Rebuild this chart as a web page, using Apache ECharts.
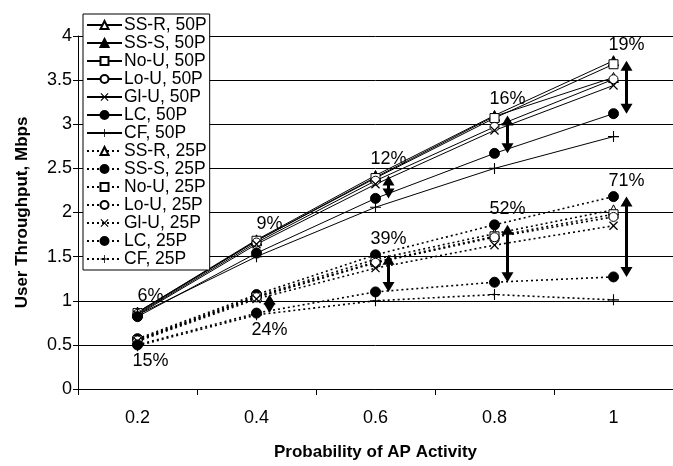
<!DOCTYPE html>
<html>
<head>
<meta charset="utf-8">
<script src="https://cdn.jsdelivr.net/npm/echarts@6/dist/echarts.min.js"></script>
<style>
html,body{margin:0;padding:0;background:#fff;}
#chart{width:673px;height:466px;}
</style>
</head>
<body>
<div id="chart"></div>
<script>
// ---- data ----
var categories = ['0.2', '0.4', '0.6', '0.8', '1'];
var yTicks = [0, 0.5, 1, 1.5, 2, 2.5, 3, 3.5, 4];

var ssR50 = [0.87, 1.68, 2.40, 3.09, 3.53];
var ssS50 = [0.87, 1.69, 2.42, 3.10, 3.72];
var noU50 = [0.86, 1.68, 2.39, 3.07, 3.68];
var loU50 = [0.85, 1.66, 2.36, 2.97, 3.51];
var glU50 = [0.84, 1.64, 2.32, 2.93, 3.44];
var lc50  = [0.82, 1.54, 2.16, 2.67, 3.12];
var cf50  = [0.84, 1.50, 2.06, 2.50, 2.86];

var ssR25 = [0.56, 1.05, 1.47, 1.76, 2.03];
var ssS25 = [0.57, 1.07, 1.52, 1.86, 2.18];
var noU25 = [0.55, 1.04, 1.44, 1.73, 1.98];
var loU25 = [0.55, 1.04, 1.43, 1.72, 1.95];
var glU25 = [0.54, 1.02, 1.37, 1.63, 1.85];
var lc25  = [0.50, 0.86, 1.10, 1.21, 1.27];
var cf25  = [0.49, 0.84, 1.00, 1.07, 1.01];

var gain50 = ['6%', '9%', '12%', '16%', '19%'];
var gain25 = ['15%', '24%', '39%', '52%', '71%'];
var arrow50 = [false, false, true, true, true];
var arrow25 = [false, true, true, true, true];
var label25Below = [true, true, false, false, false];

// ---- styling helpers ----
var FONT = '"Liberation Sans", Arial, sans-serif';
var X_PATH = 'path://M0,1L1,0L5,4L9,0L10,1L6,5L10,9L9,10L5,6L1,10L0,9L4,5Z';
var PLUS_PATH = 'path://M4.5,0H5.5V4.5H10V5.5H5.5V10H4.5V5.5H0V4.5H4.5Z';

var markers = {
  triOpen:  {symbol: 'triangle', size: 10, fill: '#fff', border: 1},
  triFill:  {symbol: 'triangle', size: 10, fill: '#000', border: 1},
  sqOpen:   {symbol: 'rect', size: 9, fill: '#fff', border: 1},
  cirOpen:  {symbol: 'circle', size: 9, fill: '#fff', border: 1},
  cross:    {symbol: X_PATH, size: 9, fill: '#000', border: 0},
  cirFill:  {symbol: 'circle', size: 10, fill: '#000', border: 1},
  plus:     {symbol: PLUS_PATH, size: 11, fill: '#000', border: 0}
};

function mkSeries(name, data, mk, dotted) {
  var m = markers[mk];
  return {
    name: name,
    type: 'line',
    data: data,
    symbol: m.symbol,
    symbolSize: m.size,
    showAllSymbol: true,
    lineStyle: {color: '#000', width: dotted ? 1.6 : 1, type: dotted ? [2, 3] : 'solid'},
    itemStyle: {color: m.fill, borderColor: '#000', borderWidth: m.border},
    emphasis: {disabled: true},
    z: 3
  };
}

var seriesList = [
  mkSeries('SS-R, 50P', ssR50, 'triOpen', false),
  mkSeries('SS-S, 50P', ssS50, 'triFill', false),
  mkSeries('No-U, 50P', noU50, 'sqOpen', false),
  mkSeries('Lo-U, 50P', loU50, 'cirOpen', false),
  mkSeries('Gl-U, 50P', glU50, 'cross', false),
  mkSeries('LC, 50P', lc50, 'cirFill', false),
  mkSeries('CF, 50P', cf50, 'plus', false),
  mkSeries('SS-R, 25P', ssR25, 'triOpen', true),
  mkSeries('SS-S, 25P', ssS25, 'cirFill', true),
  mkSeries('No-U, 25P', noU25, 'sqOpen', true),
  mkSeries('Lo-U, 25P', loU25, 'cirOpen', true),
  mkSeries('Gl-U, 25P', glU25, 'cross', true),
  mkSeries('LC, 25P', lc25, 'cirFill', true),
  mkSeries('CF, 25P', cf25, 'plus', true)
];

var group50 = [ssR50, ssS50, noU50, loU50, glU50, lc50, cf50];
var group25 = [ssR25, ssS25, noU25, loU25, glU25, lc25, cf25];
function colMax(g, i) { return Math.max.apply(null, g.map(function (s) { return s[i]; })); }
function colMin(g, i) { return Math.min.apply(null, g.map(function (s) { return s[i]; })); }

var annData = categories.map(function (c, i) {
  return [i, colMax(group50, i), lc50[i], colMax(group25, i), lc25[i], colMin(group25, i)];
});

function arrowShape(x, yTop, yBot) {
  var hw = 6, hh = 10;
  return [
    {type: 'line', shape: {x1: x, y1: yTop + hh - 1, x2: x, y2: yBot - hh + 1}, style: {stroke: '#000', lineWidth: 3}},
    {type: 'polygon', shape: {points: [[x, yTop], [x - hw, yTop + hh], [x + hw, yTop + hh]]}, style: {fill: '#000'}},
    {type: 'polygon', shape: {points: [[x, yBot], [x - hw, yBot - hh], [x + hw, yBot - hh]]}, style: {fill: '#000'}}
  ];
}

function renderAnn(params, api) {
  var i = api.value(0);
  var off = 13;
  var pTop50 = api.coord([i, api.value(1)]);
  var pLc50 = api.coord([i, api.value(2)]);
  var pTop25 = api.coord([i, api.value(3)]);
  var pLc25 = api.coord([i, api.value(4)]);
  var pMin25 = api.coord([i, api.value(5)]);
  var x = pTop50[0] + off;
  var font = '18px ' + FONT;
  var children = [];
  if (arrow50[i]) children = children.concat(arrowShape(x, pTop50[1], pLc50[1]));
  if (arrow25[i]) children = children.concat(arrowShape(x, pTop25[1], pLc25[1]));
  children.push({type: 'text', style: {text: gain50[i], x: x, y: pTop50[1] - 7, align: 'center', verticalAlign: 'bottom', font: font, fill: '#000'}});
  if (label25Below[i]) {
    children.push({type: 'text', style: {text: gain25[i], x: x, y: pMin25[1] + 6, align: 'center', verticalAlign: 'top', font: font, fill: '#000'}});
  } else {
    children.push({type: 'text', style: {text: gain25[i], x: x, y: pTop25[1] - 7, align: 'center', verticalAlign: 'bottom', font: font, fill: '#000'}});
  }
  return {type: 'group', children: children};
}

seriesList.push({
  type: 'custom',
  name: 'annotations',
  data: annData,
  encode: {x: 0, y: [1, 2, 3, 4, 5]},
  renderItem: renderAnn,
  silent: true,
  z: 10
});

var chart = echarts.init(document.getElementById('chart'), null, {renderer: 'canvas'});
chart.setOption({
  animation: false,
  backgroundColor: '#fff',
  textStyle: {fontFamily: FONT, color: '#000'},
  grid: {left: 78, top: 36, right: -4, bottom: 70, containLabel: false},
  legend: {
    data: seriesList.slice(0, 14).map(function (s) { return s.name; }),
    orient: 'vertical',
    left: 83,
    top: 14,
    itemWidth: 35,
    itemHeight: 10,
    itemGap: 0,
    padding: [2, 3, 2, 3],
    backgroundColor: '#fff',
    borderColor: '#000',
    borderWidth: 1,
    borderRadius: 0,
    selectedMode: false,
    textStyle: {fontFamily: FONT, fontSize: 17.5, lineHeight: 17, color: '#000', padding: [0, 0, 0, -3]}
  },
  xAxis: {
    type: 'category',
    data: categories,
    boundaryGap: true,
    name: 'Probability of AP Activity',
    nameLocation: 'middle',
    nameGap: 55,
    nameTextStyle: {fontFamily: FONT, fontSize: 17, fontWeight: 'bold', color: '#000'},
    axisLine: {show: true, lineStyle: {color: '#000', width: 1}},
    axisTick: {show: true, alignWithLabel: false, length: 6, lineStyle: {color: '#000'}},
    axisLabel: {fontFamily: FONT, fontSize: 18, color: '#000', margin: 20},
    splitLine: {show: false}
  },
  yAxis: {
    type: 'value',
    min: yTicks[0],
    max: yTicks[yTicks.length - 1],
    interval: yTicks[1] - yTicks[0],
    name: 'User Throughput, Mbps',
    nameLocation: 'middle',
    nameGap: 47,
    nameTextStyle: {fontFamily: FONT, fontSize: 17, fontWeight: 'bold', color: '#000'},
    axisLine: {show: true, lineStyle: {color: '#000', width: 1}},
    axisTick: {show: true, length: 5, lineStyle: {color: '#000'}},
    axisLabel: {fontFamily: FONT, fontSize: 18, color: '#000', margin: 6},
    splitLine: {show: true, lineStyle: {color: '#000', width: 1}}
  },
  series: seriesList
});
</script>
</body>
</html>
